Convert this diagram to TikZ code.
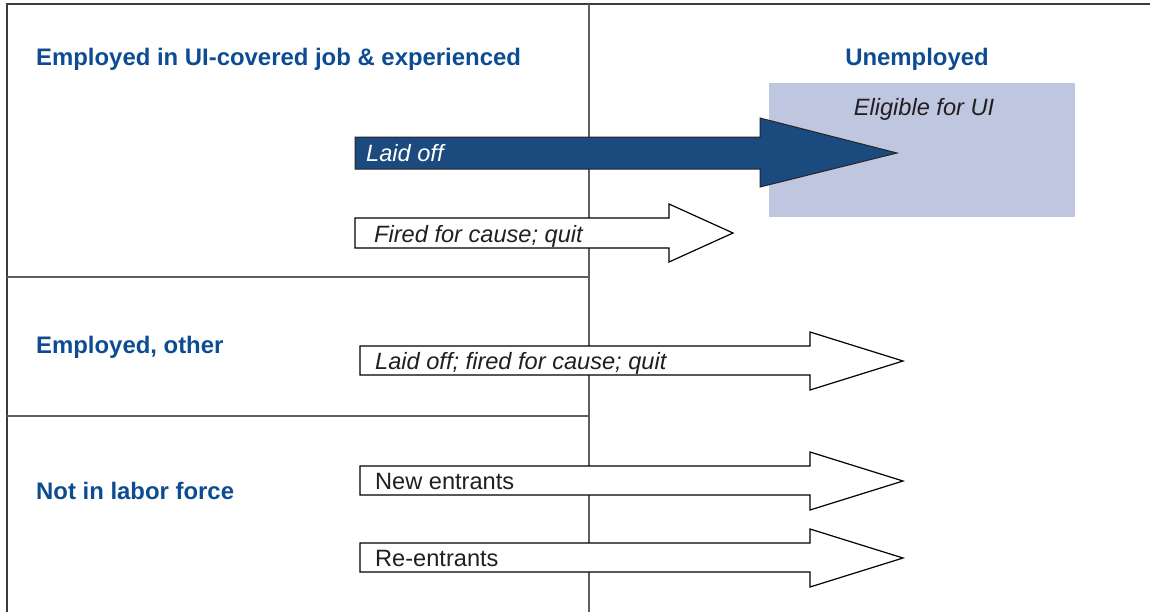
\documentclass[tikz,border=0pt]{standalone}
\usepackage{fontspec}
\setmainfont{Liberation Sans}
\definecolor{titleblue}{RGB}{14,76,146}
\definecolor{arrowblue}{RGB}{26,74,126}
\definecolor{boxblue}{RGB}{191,198,224}
\definecolor{framegray}{RGB}{60,60,60}
\definecolor{divgray}{RGB}{95,95,95}
\definecolor{textgray}{RGB}{35,31,32}
\begin{document}
\begin{tikzpicture}[x=1pt,y=-1pt,
  title/.style={font=\fontsize{23.9}{26}\selectfont\bfseries, text=titleblue, inner sep=0pt},
  lab/.style={font=\fontsize{23.6}{26}\selectfont, text=textgray, inner sep=0pt, anchor=base west},
  itlab/.style={lab, font=\fontsize{23.6}{26}\selectfont\itshape},
  frameline/.style={draw=framegray, line width=1.6pt},
  divline/.style={draw=divgray, line width=1.4pt},
  whitearrow/.style={draw=black, line width=1.2pt, fill=white, line join=miter},
  darkarrow/.style={draw=black!85, line width=1pt, fill=arrowblue, line join=miter}]
\useasboundingbox (0,0) rectangle (1150,611);
\clip (0,0) rectangle (1150,611);
% frame and dividers
\draw[frameline] (7,640) -- (7,4) -- (1170,4);
\draw[divline] (589,4) -- (589,640);
\draw[divline] (7,277) -- (589,277);
\draw[divline] (7,416) -- (589,416);
% eligible box
\fill[boxblue] (769,83) rectangle (1075,217);
\node[itlab, anchor=base] (elig) at (924,115) {Eligible for UI};
% titles
\node[title, anchor=base west] (t1) at (36,65) {Employed in UI-covered job \& experienced};
\node[title, anchor=base] (t2) at (917,65) {Unemployed};
\node[title, anchor=base west] (t3) at (36,353) {Employed, other};
\node[title, anchor=base west] (t4) at (36,499) {Not in labor force};
% laid off arrow
\draw[darkarrow] (355,137) -- (760,137) -- (760,118) -- (897,153) -- (760,187) -- (760,169) -- (355,169) -- cycle;
\node[itlab, text=white] (a1) at (366,161) {Laid off};
% fired arrow
\draw[whitearrow] (355,218) -- (669,218) -- (669,204) -- (733,233) -- (669,262) -- (669,248) -- (355,248) -- cycle;
\node[itlab] (a2) at (374,242) {Fired for cause; quit};
% laid off; fired arrow
\draw[whitearrow] (360,346) -- (810,346) -- (810,332) -- (903,361) -- (810,390) -- (810,375) -- (360,375) -- cycle;
\node[itlab] (a3) at (375,369) {Laid off; fired for cause; quit};
% new entrants
\draw[whitearrow] (360,466) -- (810,466) -- (810,452) -- (903,481) -- (810,510) -- (810,495) -- (360,495) -- cycle;
\node[lab] (a4) at (375,489) {New entrants};
% re-entrants
\draw[whitearrow] (360,543) -- (810,543) -- (810,529) -- (903,558) -- (810,587) -- (810,572) -- (360,572) -- cycle;
\node[lab] (a5) at (375,566) {Re-entrants};
\end{tikzpicture}
\end{document}
